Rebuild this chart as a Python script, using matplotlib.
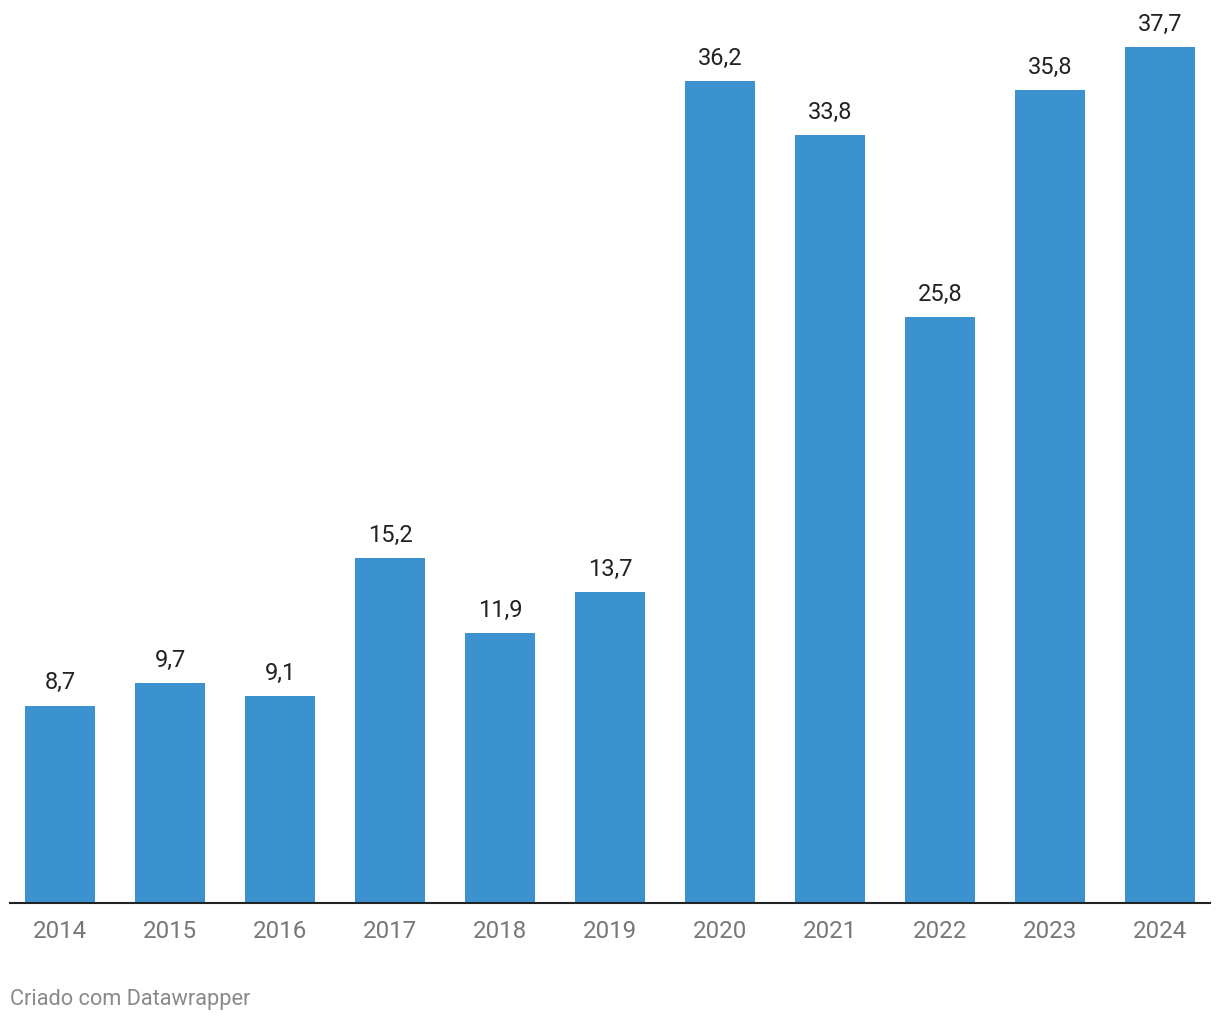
import numpy as np
import matplotlib
matplotlib.use("Agg")
import matplotlib.pyplot as plt

years = ["2014", "2015", "2016", "2017", "2018", "2019",
         "2020", "2021", "2022", "2023", "2024"]
values = [8.7, 9.7, 9.1, 15.2, 11.9, 13.7, 36.2, 33.8, 25.8, 35.8, 37.7]
value_labels = ["8,7", "9,7", "9,1", "15,2", "11,9", "13,7",
                "36,2", "33,8", "25,8", "35,8", "37,7"]

plt.rcParams['font.family'] = ['Roboto', 'DejaVu Sans']

W, H = 1220, 1020
fig = plt.figure(figsize=(W / 100, H / 100), dpi=100)

# axes placed in pixel terms: x 10..1210, baseline near y=904 (from top)
base_px = 904.2
ax = fig.add_axes([10 / W, (H - base_px) / H, 1200 / W, base_px / H])

px_per_unit = 22.72
x = np.arange(len(years))
ax.bar(x, values, width=70 / 110, color="#3c91cf", zorder=2)
ax.set_xlim(-50 / 110, len(years) - 1 + 50 / 110)
ax.set_ylim(0, base_px / px_per_unit)

for xi, v, lab in zip(x, values, value_labels):
    ax.annotate(lab, (xi, v), xytext=(0, 12.3), textcoords="offset points",
                ha="center", va="baseline", fontsize=17, color="#222222")

for s in ["top", "right", "left"]:
    ax.spines[s].set_visible(False)
ax.spines["bottom"].set_linewidth(1.5)
ax.spines["bottom"].set_color("#222222")
ax.set_yticks([])
ax.set_xticks(x)
ax.set_xticklabels(years, fontsize=17.4, color="#777777")
ax.tick_params(axis="x", length=0, pad=11.5)

fig.text(10 / W, 1 - 1000 / H, "Criado com Datawrapper", fontsize=15.7,
         color="#8a8a8a", ha="left", va="center")

fig.savefig("out.png", dpi=100)
